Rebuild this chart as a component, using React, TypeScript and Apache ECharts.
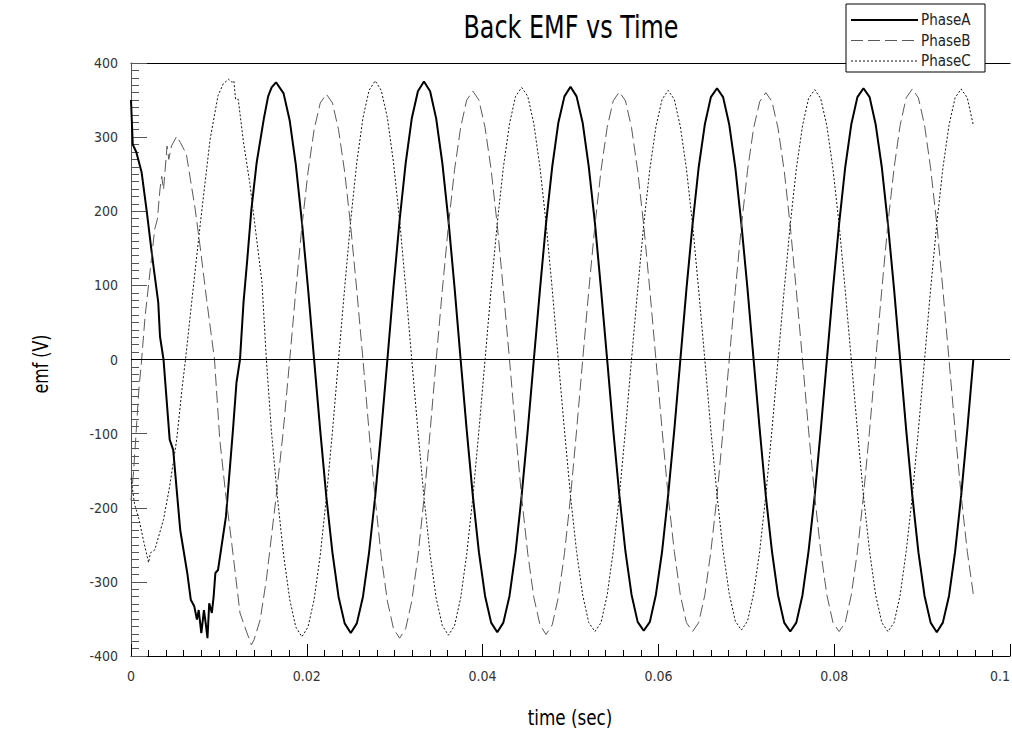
import React, { useEffect, useRef } from "react";
import * as echarts from "echarts";

// ---- data ----
// Start-up transient, irregular samples (s)
const phaseATransientTime = [0, 0.0002, 0.0006, 0.0012, 0.0018, 0.0023, 0.0026, 0.0031, 0.0033, 0.0037, 0.0039, 0.0044, 0.0048, 0.0056, 0.0064, 0.0068, 0.0072, 0.0075, 0.0077, 0.008, 0.0083, 0.0085, 0.0087, 0.0089, 0.0092, 0.0094, 0.0096, 0.0099, 0.0108, 0.0116, 0.012, 0.0124, 0.0128, 0.0132, 0.0137, 0.0143, 0.0151, 0.0156, 0.016, 0.0165, 0.01736, 0.01806];
const phaseATransientEmf = [350, 290, 280, 253, 199, 150, 122, 77, 31, 0, -31, -108, -122, -230, -288, -324, -333, -351, -338, -369, -338, -356, -376, -329, -342, -320, -288, -284, -212, -95, -31, 0, 77, 131, 203, 266, 324, 355, 367, 374, 359, 322];

const phaseBTransientTime = [0, 0.0003, 0.0006, 0.0009, 0.0012, 0.0016, 0.0022, 0.0027, 0.003, 0.0033, 0.0035, 0.0037, 0.0041, 0.0043, 0.0046, 0.0052, 0.0056, 0.0063, 0.0073, 0.0079, 0.0086, 0.0095, 0.0101, 0.0108, 0.0115, 0.0124, 0.0132, 0.0137, 0.014, 0.0147, 0.0154, 0.0166, 0.0173, 0.01806];
const phaseBTransientEmf = [-190, -150, -95, -40, -2, 58, 122, 176, 189, 230, 247, 229, 288, 270, 288, 301, 293, 277, 203, 149, 81, 0, -108, -185, -252, -342, -369, -385, -378, -351, -297, -176, -99, 0];

const phaseCTransientTime = [0, 0.0004, 0.0009, 0.0014, 0.002, 0.0022, 0.0027, 0.0037, 0.0044, 0.0052, 0.0058, 0.0062, 0.0069, 0.0079, 0.009, 0.0099, 0.0105, 0.0111, 0.0115, 0.0117, 0.0119, 0.0122, 0.0128, 0.0135, 0.0149, 0.0154, 0.01597, 0.01667, 0.01736, 0.01806];
const phaseCTransientEmf = [-160, -195, -215, -243, -274, -261, -257, -216, -171, -108, -40, 0, 77, 185, 297, 356, 372, 378, 374, 376, 351, 351, 293, 239, 104, 0, -96, -187, -264, -324];

// Steady-state samples (s)
const steadyTime = [
  0.01875, 0.01944, 0.02014, 0.02083, 0.02153, 0.02222, 0.02292, 0.02361, 0.02431, 0.025,
  0.02569, 0.02639, 0.02708, 0.02778, 0.02847, 0.02917, 0.02986, 0.03056, 0.03125, 0.03194,
  0.03264, 0.03333, 0.03403, 0.03472, 0.03542, 0.03611, 0.03681, 0.0375, 0.03819, 0.03889,
  0.03958, 0.04028, 0.04097, 0.04167, 0.04236, 0.04306, 0.04375, 0.04444, 0.04514, 0.04583,
  0.04653, 0.04722, 0.04792, 0.04861, 0.04931, 0.05, 0.05069, 0.05139, 0.05208, 0.05278,
  0.05347, 0.05417, 0.05486, 0.05556, 0.05625, 0.05694, 0.05764, 0.05833, 0.05903, 0.05972,
  0.06042, 0.06111, 0.06181, 0.0625, 0.06319, 0.06389, 0.06458, 0.06528, 0.06597, 0.06667,
  0.06736, 0.06806, 0.06875, 0.06944, 0.07014, 0.07083, 0.07153, 0.07222, 0.07292, 0.07361,
  0.07431, 0.075, 0.07569, 0.07639, 0.07708, 0.07778, 0.07847, 0.07917, 0.07986, 0.08056,
  0.08125, 0.08194, 0.08264, 0.08333, 0.08403, 0.08472, 0.08542, 0.08611, 0.08681, 0.0875,
  0.08819, 0.08889, 0.08958, 0.09028, 0.09097, 0.09167, 0.09236, 0.09306, 0.09375, 0.09444,
  0.09514, 0.09583,
];
const phaseASteadyEmf = [
  263, 186, 96, 0, -96, -185, -261, -320, -356, -369,
  -356, -320, -261, -185, -96, 0, 97, 188, 265, 325,
  362, 375, 362, 325, 265, 188, 97, 0, -95, -184,
  -260, -319, -355, -368, -355, -319, -260, -184, -95, 0,
  95, 184, 260, 319, 355, 368, 355, 319, 260, 184,
  95, 0, -95, -183, -259, -317, -354, -366, -354, -317,
  -259, -183, -95, 0, 95, 183, 259, 317, 354, 366,
  354, 317, 259, 183, 95, 0, -95, -184, -259, -318,
  -355, -367, -355, -318, -259, -184, -95, 0, 95, 183,
  259, 317, 354, 366, 354, 317, 259, 183, 95, 0,
  -95, -184, -260, -319, -355, -368, -355, -319, -260, -184,
  -95, 0,
];
const phaseBSteadyEmf = [
  93, 179, 253, 310, 346, 358, 346, 310, 253, 179,
  93, 0, -97, -188, -266, -326, -363, -376, -363, -326,
  -266, -188, -97, 0, 94, 181, 256, 313, 350, 362,
  350, 313, 256, 181, 94, 0, -96, -186, -262, -321,
  -358, -371, -358, -321, -262, -186, -96, 0, 93, 181,
  255, 313, 349, 361, 349, 313, 255, 181, 93, 0,
  -95, -184, -259, -318, -355, -367, -355, -318, -259, -184,
  -95, 0, 93, 180, 255, 312, 348, 360, 348, 312,
  255, 180, 93, 0, -95, -184, -259, -318, -355, -367,
  -355, -318, -259, -184, -95, 0, 95, 183, 258, 316,
  353, 365, 353, 316, 258, 183, 95, 0, -95, -183,
  -259, -317,
];
const phaseCSteadyEmf = [
  -361, -374, -361, -324, -264, -187, -97, 0, 97, 188,
  266, 326, 363, 376, 363, 326, 266, 188, 97, 0,
  -96, -186, -263, -322, -359, -372, -359, -322, -263, -186,
  -96, 0, 95, 184, 259, 318, 355, 367, 355, 318,
  259, 184, 95, 0, -95, -184, -259, -318, -355, -367,
  -355, -318, -259, -184, -95, 0, 94, 182, 257, 314,
  351, 363, 351, 314, 257, 182, 94, 0, -95, -183,
  -258, -316, -353, -365, -353, -316, -258, -183, -95, 0,
  94, 182, 257, 315, 352, 364, 352, 315, 257, 182,
  94, 0, -95, -184, -259, -318, -355, -367, -355, -318,
  -259, -184, -95, 0, 95, 183, 258, 316, 353, 365,
  353, 316,
];

const seriesNames = ["PhaseA", "PhaseB", "PhaseC"];
const titleText = "Back EMF vs Time";
const xAxisName = "time (sec)";
const yAxisName = "emf (V)";
const xTicks = { min: 0, max: 0.1, interval: 0.02 };
const yTicks = { min: -400, max: 400, interval: 100 };

const FONT = "'DejaVu Sans Condensed', 'DejaVu Sans', sans-serif";
const COLOR_A = "#000000";
const COLOR_B = "#5a5a5a";
const COLOR_C = "#111111";
const DASH_B = [12, 5];
const DASH_C = [2, 2];

function pairs(t: number[], v: number[]) {
  return t.map((x, i) => [x, v[i]]);
}

export default function App() {
  const ref = useRef<HTMLDivElement>(null);
  useEffect(() => {
    if (!ref.current) return;
    const chart = echarts.init(ref.current, undefined, { renderer: "svg", width: 1012, height: 732 });
    const dataA = pairs(phaseATransientTime, phaseATransientEmf).concat(pairs(steadyTime, phaseASteadyEmf));
    const dataB = pairs(phaseBTransientTime, phaseBTransientEmf).concat(pairs(steadyTime, phaseBSteadyEmf));
    const dataC = pairs(phaseCTransientTime, phaseCTransientEmf).concat(pairs(steadyTime, phaseCSteadyEmf));

    const legendStyles = [
      { stroke: COLOR_A, lineWidth: 2, lineDash: null as any },
      { stroke: COLOR_B, lineWidth: 1, lineDash: DASH_B },
      { stroke: COLOR_C, lineWidth: 1, lineDash: DASH_C },
    ];
    const legendElems: any[] = [
      {
        type: "rect",
        shape: { x: 846, y: 4, width: 139, height: 68 },
        style: { fill: "#ffffff", stroke: "#000", lineWidth: 1 },
        z: 100,
      },
    ];
    seriesNames.forEach((name, i) => {
      const y = 20 + i * 20.5;
      legendElems.push({
        type: "line",
        shape: { x1: 851, y1: y, x2: 918, y2: y },
        style: { ...legendStyles[i], fill: null },
        z: 101,
      });
      legendElems.push({
        type: "text",
        x: 921,
        y: y,
        style: {
          text: name,
          fontSize: 15,
          fontFamily: FONT,
          fill: "#222",
          textAlign: "left",
          textVerticalAlign: "middle",
        },
        z: 101,
      });
    });

    chart.setOption({
      animation: false,
      backgroundColor: "#ffffff",
      textStyle: { fontFamily: FONT },
      grid: {
        left: 131,
        right: 2,
        top: 63,
        bottom: 76,
        containLabel: false,
        outerBoundsMode: "none",
      },
      xAxis: [
        {
          type: "value",
          min: xTicks.min,
          max: xTicks.max,
          interval: xTicks.interval,
          axisLine: { show: true, onZero: false, lineStyle: { color: "#000", width: 1 } },
          axisTick: { show: true, inside: true, length: 12, lineStyle: { color: "#000" } },
          minorTick: { show: true, splitNumber: 10, length: 6, lineStyle: { color: "#000" } },
          axisLabel: {
            fontFamily: FONT,
            fontSize: 14,
            color: "#333",
            margin: 13,
            alignMaxLabel: "right",
            formatter: (v: number) => String(parseFloat(v.toFixed(3))),
          },
          splitLine: { show: false },
        },
        {
          type: "value",
          position: "top",
          min: xTicks.min,
          max: xTicks.max,
          axisLine: { show: true, onZero: false, lineStyle: { color: "#000", width: 1 } },
          axisTick: { show: false },
          axisLabel: { show: false },
          splitLine: { show: false },
        },
      ],
      yAxis: {
        type: "value",
        min: yTicks.min,
        max: yTicks.max,
        interval: yTicks.interval,
        axisLine: { show: true, onZero: false, lineStyle: { color: "#555", width: 1 } },
        axisTick: { show: true, inside: true, length: 16, lineStyle: { color: "#555" } },
        minorTick: { show: true, splitNumber: 10, length: 8, lineStyle: { color: "#555" } },
        axisLabel: { fontFamily: FONT, fontSize: 14, color: "#333", margin: 13 },
        splitLine: { show: false },
      },
      graphic: [
        {
          type: "text",
          x: 571,
          y: 27,
          scaleX: 0.83,
          style: {
            text: titleText,
            fontSize: 32,
            fontFamily: FONT,
            fill: "#000",
            textAlign: "center",
            textVerticalAlign: "middle",
          },
        },
        {
          type: "text",
          x: 570,
          y: 718,
          scaleX: 0.89,
          style: {
            text: xAxisName,
            fontSize: 21,
            fontFamily: FONT,
            fill: "#000",
            textAlign: "center",
            textVerticalAlign: "middle",
          },
        },
        {
          type: "text",
          x: 41,
          y: 364,
          rotation: Math.PI / 2,
          scaleX: 0.84,
          style: {
            text: yAxisName,
            fontSize: 21,
            fontFamily: FONT,
            fill: "#000",
            textAlign: "center",
            textVerticalAlign: "middle",
          },
        },
        ...legendElems,
      ],
      series: [
        {
          name: seriesNames[0],
          type: "line",
          data: dataA,
          showSymbol: false,
          symbol: "none",
          lineStyle: { color: COLOR_A, width: 2, type: "solid" },
          itemStyle: { color: COLOR_A },
          markLine: {
            silent: true,
            symbol: "none",
            label: { show: false },
            lineStyle: { color: "#000", width: 1, type: "solid" },
            data: [{ yAxis: 0 }],
          },
        },
        {
          name: seriesNames[1],
          type: "line",
          data: dataB,
          showSymbol: false,
          symbol: "none",
          lineStyle: { color: COLOR_B, width: 1, type: DASH_B },
          itemStyle: { color: COLOR_B },
        },
        {
          name: seriesNames[2],
          type: "line",
          data: dataC,
          showSymbol: false,
          symbol: "none",
          lineStyle: { color: COLOR_C, width: 1, type: DASH_C },
          itemStyle: { color: COLOR_C },
        },
      ],
    });
    return () => chart.dispose();
  }, []);
  return (
    <div
      ref={ref}
      style={{ position: "absolute", left: 0, top: 0, width: 1012, height: 732 }}
    />
  );
}
